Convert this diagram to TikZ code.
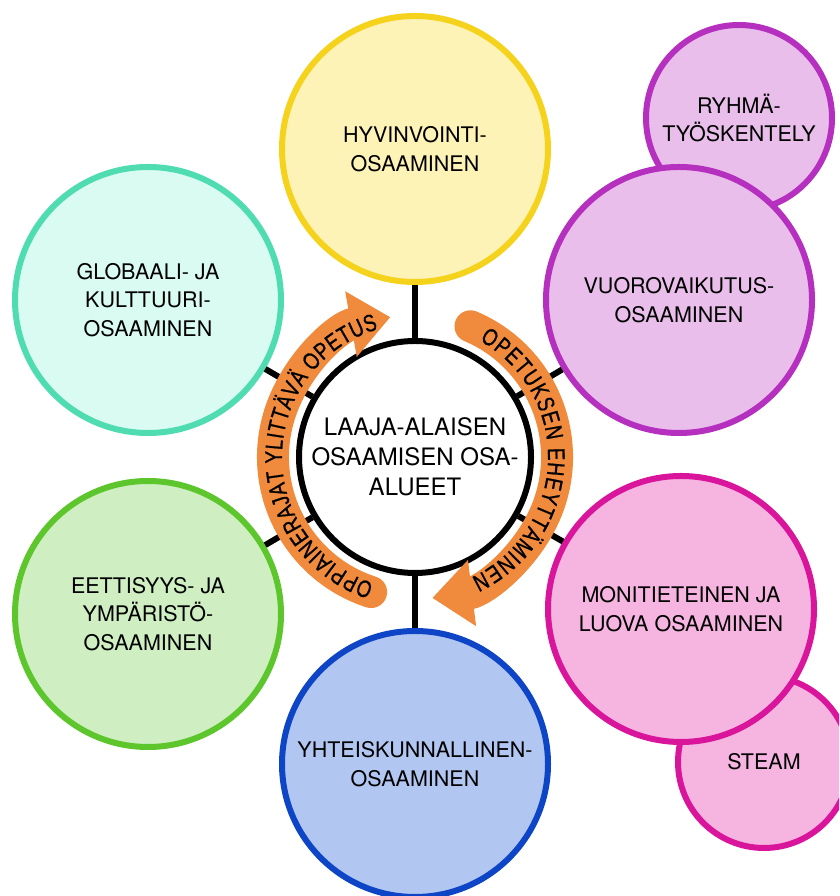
\documentclass[tikz,border=0pt]{standalone}
\usepackage{fontspec}
\setmainfont{TeX Gyre Heros}
\newfontfamily\arcfont[FakeStretch=0.78,FakeBold=0.8]{Liberation Sans}
\usetikzlibrary{arrows.meta,decorations.text}
\definecolor{yelS}{HTML}{F5D21C}\definecolor{yelF}{HTML}{FDF3B6}
\definecolor{teaS}{HTML}{4FDCB0}\definecolor{teaF}{HTML}{D9FBF1}
\definecolor{grnS}{HTML}{5EC62D}\definecolor{grnF}{HTML}{CFEFC2}
\definecolor{purS}{HTML}{B530BF}\definecolor{purF}{HTML}{E9BEEB}
\definecolor{pnkS}{HTML}{D9159C}\definecolor{pnkF}{HTML}{F6B4E1}
\definecolor{bluS}{HTML}{0D45C6}\definecolor{bluF}{HTML}{B1C7F2}
\definecolor{orng}{HTML}{F08A3C}
\tikzset{
  bubble/.style={circle, line width=6pt, minimum size=266pt, inner sep=0pt, align=center, font=\fontsize{21.5}{28.5}\selectfont},
  smallbubble/.style={bubble, minimum size=186pt},
  hub/.style={circle, draw=black, fill=white, line width=6pt, minimum size=232pt, inner sep=0pt, align=center, font=\fontsize{24}{30}\selectfont},
  link/.style={line width=6pt, black},
  band/.style={draw=orng, line width=32pt, line cap=round, -{Triangle[length=40pt,width=64pt]}},
  bandtext/.style={decorate, decoration={text along path, text align={fit to path}, text color=black}}
}
\begin{document}
\begin{tikzpicture}[x=1pt,y=1pt]
\useasboundingbox (0,0) rectangle (839,896);
\clip (0,0) rectangle (839,896);
% outer circles
\node[smallbubble, draw=purS, fill=purF] (ryh) at (739,778) {RYHMÄ-\\TYÖSKENTELY};
\node[smallbubble, minimum size=172pt, draw=pnkS, fill=pnkF] (ste) at (764,134) {\raisebox{-6pt}{STEAM}};
\node[bubble, draw=yelS, fill=yelF] (hyv) at (415,747) {HYVINVOINTI-\\OSAAMINEN};
\node[bubble, draw=teaS, fill=teaF] (glo) at (148,596) {GLOBAALI- JA\\KULTTUURI-\\OSAAMINEN};
\node[bubble, draw=grnS, fill=grnF] (eet) at (148,282) {EETTISYYS- JA\\YMPÄRISTÖ-\\OSAAMINEN};
\node[bubble, draw=purS, fill=purF] (vuo) at (679,596) {VUOROVAIKUTUS-\\OSAAMINEN};
\node[bubble, draw=pnkS, fill=pnkF] (mon) at (681,287) {MONITIETEINEN JA\\LUOVA OSAAMINEN};
\node[bubble, draw=bluS, fill=bluF] (yht) at (415,132) {YHTEISKUNNALLINEN-\\OSAAMINEN};
% hub
\node[hub] (hub) at (415,439) {LAAJA-ALAISEN\\OSAAMISEN OSA-\\ALUEET};
% connectors
\draw[link] (hub) -- (hyv);
\draw[link] (hub) -- (yht);
\draw[link] (hub) -- (glo);
\draw[link] (hub) -- (eet);
\draw[link] (hub) -- (vuo);
\draw[link] (hub) -- (mon);
% orange arrows
\draw[band] (hub.center) ++(252:142pt) arc[start angle=252, end angle=100, radius=142pt];
\draw[band] (hub.center) ++(67:142pt) arc[start angle=67, end angle=-83, radius=142pt];
\path[bandtext, decoration={text={|\arcfont\fontsize{24}{24}\selectfont|OPPIAINERAJAT YLITTÄVÄ OPETUS}}]
  (hub.center) ++(252:133pt) arc[start angle=252, end angle=106, radius=133pt];
\path[bandtext, decoration={text={|\arcfont\fontsize{24}{24}\selectfont|OPETUKSEN EHEYTTÄMINEN}}]
  (hub.center) ++(61:133pt) arc[start angle=61, end angle=-65, radius=133pt];
\end{tikzpicture}
\end{document}
